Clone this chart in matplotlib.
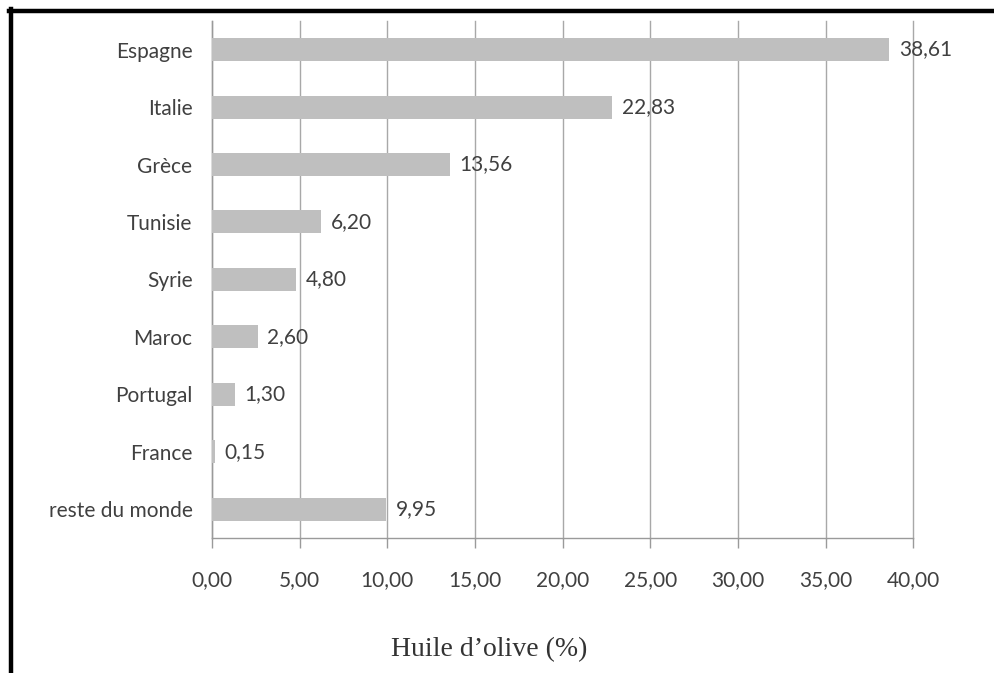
import matplotlib.pyplot as plt
from matplotlib.lines import Line2D

# Olive oil production share by country (%)
pays = ['Espagne', 'Italie', 'Grèce', 'Tunisie', 'Syrie', 'Maroc',
        'Portugal', 'France', 'reste du monde']
parts = [38.61, 22.83, 13.56, 6.20, 4.80, 2.60, 1.30, 0.15, 9.95]
graduations = [0, 5, 10, 15, 20, 25, 30, 35, 40]

texte = '#404040'
police = ['Lato', 'DejaVu Sans']

fig = plt.figure(figsize=(9.95, 6.73), dpi=100)
ax = fig.add_axes([0.213, 0.2006, 0.705, 0.7684])

y = list(range(len(pays)))
ax.barh(y, parts, height=0.4, color='#bfbfbf', zorder=3)
ax.set_ylim(len(pays) - 0.5, -0.5)
ax.set_xlim(0, 40)

# libellés de valeur au bout des barres
for yi, v in zip(y, parts):
    ax.annotate(f'{v:.2f}'.replace('.', ','), xy=(v, yi), xytext=(7, 0),
                textcoords='offset points', ha='left', va='center',
                fontsize=15, color=texte, family=police)

ax.set_yticks(y)
ax.set_yticklabels(pays, family=police, fontsize=15, color=texte)
ax.tick_params(axis='y', length=0, pad=14)

ax.set_xticks(graduations)
ax.set_xticklabels([f'{g:.2f}'.replace('.', ',') for g in graduations],
                   family=police, fontsize=15, color=texte)
ax.tick_params(axis='x', length=7, width=1, color='#9a9a9a', pad=16)

ax.xaxis.grid(True, color='#a8a8a8', linewidth=1, zorder=0)
for g in ax.xaxis.get_gridlines():
    g.set_clip_on(False)
for s in ['top', 'right']:
    ax.spines[s].set_visible(False)
for s in ['left', 'bottom']:
    ax.spines[s].set_color('#9a9a9a')
    ax.spines[s].set_linewidth(1)

fig.text(0.492, 1 - 650 / 673, 'Huile d\u2019olive (%)', ha='center', va='center',
         family='Liberation Serif', fontsize=20, color='#333333')

# cadre noir en haut et à gauche
fig.add_artist(Line2D([9 / 995, 1], [1 - 11 / 673] * 2, color='black', linewidth=3.2,
                      transform=fig.transFigure))
fig.add_artist(Line2D([11 / 995] * 2, [0, 1 - 9 / 673], color='black', linewidth=3.2,
                      transform=fig.transFigure))

fig.savefig('out.png', dpi=100)
